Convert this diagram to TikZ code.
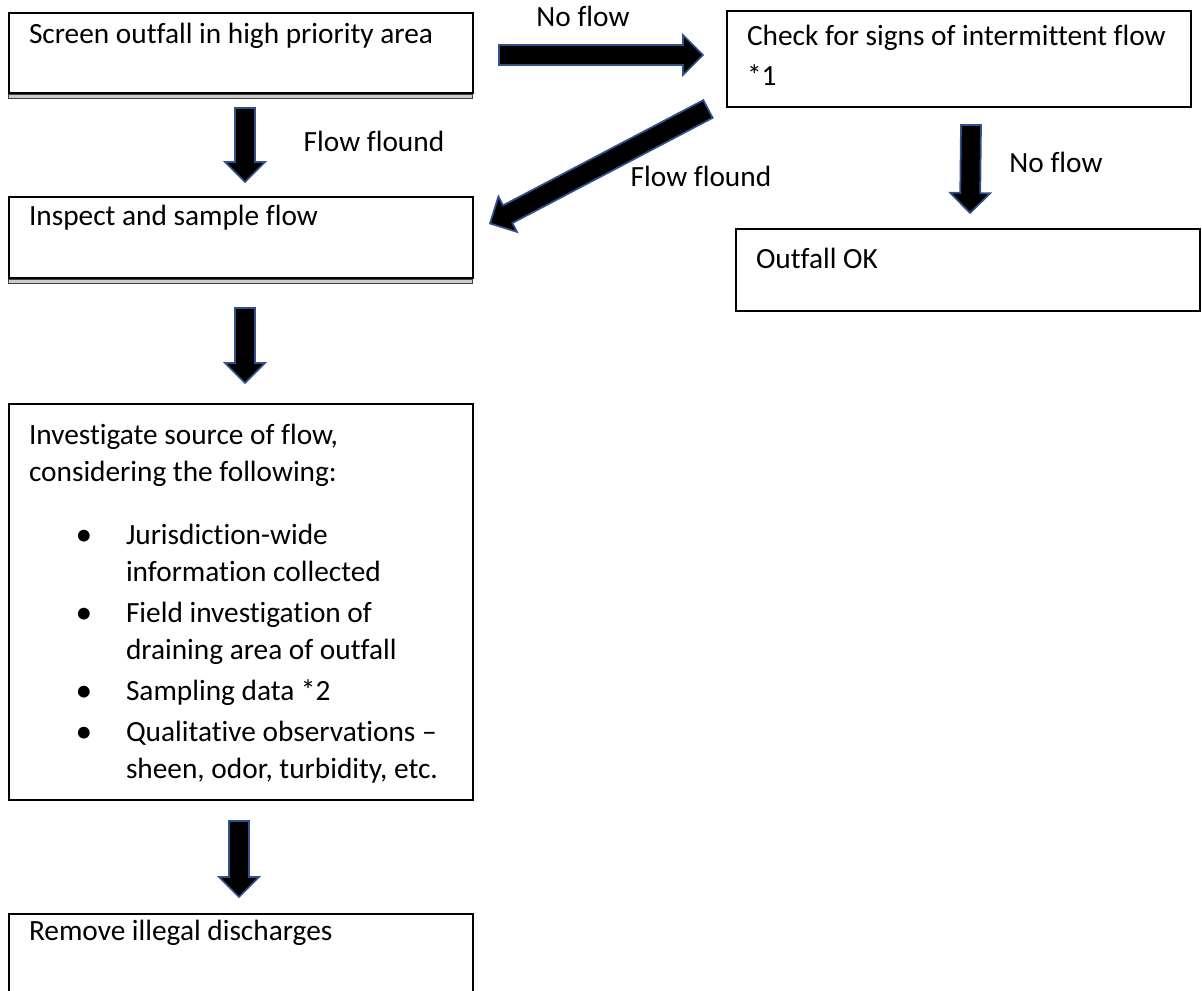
\documentclass[tikz,border=0pt]{standalone}
\usepackage{fontspec}
\setmainfont{Carlito}[Ligatures={TeX,NoCommon}]
\usepackage{tikz}
\usepackage{xcolor}
\usetikzlibrary{calc,positioning}

\definecolor{arrowblue}{RGB}{47,82,143}

\tikzset{
	stepbox/.style={draw, line width=1.5pt, anchor=north west, text width=318pt,
		inner xsep=15pt, inner ysep=0pt, align=flush left,
		font=\fontsize{22}{27.75}\selectfont},
	doublebase/.style={fill=gray!40, draw=black!75, line width=0.6pt},
	fatarrow/.style={fill=black, draw=arrowblue, line width=1.3pt, line join=miter},
	lbl/.style={font=\fontsize{22}{25}\selectfont, inner sep=0pt}
}

% block arrow from #1 (tail) to #2 (tip)
\newcommand{\blockarrow}[2]{%
	\coordinate (ba-h) at ($(#2)!15pt!(#1)$);
	\filldraw[fatarrow] ($(#1)!7.5pt!90:(#2)$) -- ($(ba-h)!7.5pt!90:(#2)$)
		-- ($(ba-h)!15pt!90:(#2)$) -- (#2) -- ($(ba-h)!15pt!-90:(#2)$)
		-- ($(ba-h)!7.5pt!-90:(#2)$) -- ($(#1)!7.5pt!-90:(#2)$) -- cycle;}
\newcommand{\bitem}{\hspace*{35pt}\makebox[37.75pt][l]{\raisebox{-1pt}{\fontsize{25}{25}\selectfont\textbullet}}}
\newcommand{\bcont}{\hspace*{72.75pt}}

\begin{document}
\begin{tikzpicture}[x=0.75pt, y=-0.75pt]
		\useasboundingbox (0,0) rectangle (1202,991);
		\clip (0,0) rectangle (1202,991);

		% boxes
		\node[stepbox, text height=23.25pt, text depth=36.75pt] (screen) at (8,12)
			{Screen outfall in high priority area};
		\node[stepbox, text height=26.25pt, text depth=45.75pt,
			font=\fontsize{22}{30}\selectfont] (check) at (726,10)
			{Check for signs of intermittent flow\\{}*1};
		\node[stepbox, text height=21.75pt, text depth=39pt] (inspect) at (8,196)
			{Inspect and sample flow};
		\node[stepbox, text height=29.25pt, text depth=32.25pt] (ok) at (735,228)
			{Outfall OK};
		\node[stepbox, text height=30pt, text depth=267pt] (source) at (8,403)
			{Investigate source of flow,\\
			considering the following:\\[19.5pt]
			\bitem Jurisdiction-wide\\
			\bcont information collected\\[3pt]
			\bitem Field investigation of\\
			\bcont draining area of outfall\\[3pt]
			\bitem Sampling data *2\\[3pt]
			\bitem Qualitative observations --\\
			\bcont sheen, odor, turbidity, etc.};
		\node[stepbox, text height=19.5pt, text depth=60pt] (remove) at (8,913)
			{Remove illegal discharges};

		\draw[doublebase] (screen.south west) rectangle ++(464,4);
		\draw[doublebase] (inspect.south west) rectangle ++(464,4);

		% arrow ends
		\coordinate (nf1s) at ($(screen.east)+(25,2)$);
		\coordinate (nf1t) at ($(check.west)+(-23,-4)$);
		\coordinate (ff1s) at ($(screen.south)+(4,14)$);
		\coordinate (ff1t) at ($(inspect.north)+(4,-14)$);
		\coordinate (ff2s) at ($(check.south west)+(-18,1)$);
		\coordinate (ff2t) at ($(inspect.east)+(16,-14)$);
		\coordinate (nf2s) at ($(check.south)+(12,17)$);
		\coordinate (nf2t) at ($(ok.north)+(2,-15)$);
		\coordinate (is1s) at ($(inspect.south)+(4,29)$);
		\coordinate (is1t) at ($(source.north)+(4,-20)$);
		\coordinate (rm1s) at ($(source.south)+(-2,20)$);
		\coordinate (rm1t) at ($(remove.north)+(-2,-16)$);

		\blockarrow{nf1s}{nf1t}
		\blockarrow{ff1s}{ff1t}
		\blockarrow{ff2s}{ff2t}
		\blockarrow{nf2s}{nf2t}
		\blockarrow{is1s}{is1t}
		\blockarrow{rm1s}{rm1t}

		% labels
		\node[lbl] (nflow1) at (583,16) {No flow};
		\node[lbl] (fflound1) at (374,141) {Flow flound};
		\node[lbl] (fflound2) at (701,176) {Flow flound};
		\node[lbl] (nflow2) at (1056,162) {No flow};
	\end{tikzpicture}
\end{document}
